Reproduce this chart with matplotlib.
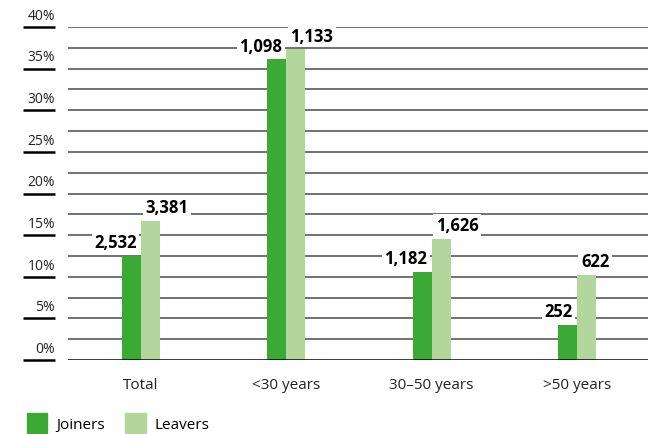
import numpy as np
import matplotlib.pyplot as plt
from matplotlib.patches import Patch
import matplotlib.transforms as mtransforms

# data
categories = ['Total', '<30 years', '30\u201350 years', '>50 years']
joiners_pct = [12.5, 36.1, 10.6, 4.2]
leavers_pct = [16.7, 37.3, 14.5, 10.2]
joiners_lbl = ['2,532', '1,098', '1,182', '252']
leavers_lbl = ['3,381', '1,133', '1,626', '622']
yticks = [0, 5, 10, 15, 20, 25, 30, 35, 40]

dark = '#3aaa35'
light = '#b2d69b'

plt.rcParams['font.family'] = ['Open Sans', 'DejaVu Sans']

fig = plt.figure(figsize=(6.48, 4.35), dpi=100)
ax = fig.add_axes([68/648, 74/435, 580/648, 333/435])

x = np.arange(len(categories))
w = 0.131
ax.bar(x - w/2, joiners_pct, w, color=dark, zorder=3)
ax.bar(x + w/2, leavers_pct, w, color=light, zorder=3)

# gridlines every 2.5%
for g in np.arange(2.5, 40.1, 2.5):
    ax.axhline(g, color='#4a4a4a', lw=1.1, zorder=1)
ax.axhline(0, color='black', lw=1.8, zorder=4)

ax.set_xlim(-0.503, 3.49)
ax.set_ylim(0, 40)
for s in ax.spines.values():
    s.set_visible(False)
ax.set_yticks([])
ax.set_xticks(x)
ax.set_xticklabels(categories, fontsize=11, color='#222222')
ax.tick_params(axis='x', length=0, pad=12)

# left-hand labels sitting on short rules
trans = mtransforms.blended_transform_factory(fig.transFigure, ax.transData)
for t in yticks:
    ax.plot([23/648, 55/648], [t, t], transform=trans, color='black',
            lw=1.8, clip_on=False, solid_capstyle='butt')
    ax.annotate('%d%%' % t, (55/648, t), xycoords=trans, xytext=(0, 3),
                textcoords='offset points', ha='right', va='bottom',
                fontsize=10, color='#222222')

# value labels in white boxes
box = dict(boxstyle='square,pad=0.15', fc='white', ec='none')
for i in range(len(categories)):
    ax.annotate(joiners_lbl[i], (x[i], joiners_pct[i]), xytext=(-3, 10),
                textcoords='offset points', ha='right', va='center',
                fontsize=12, fontweight='bold', bbox=box, zorder=5)
    ax.annotate(leavers_lbl[i], (x[i], leavers_pct[i]), xytext=(3, 10),
                textcoords='offset points', ha='left', va='center',
                fontsize=12, fontweight='bold', bbox=box, zorder=5)

handles = [Patch(color=dark), Patch(color=light)]
fig.legend(handles, ['Joiners', 'Leavers'], loc='center left',
           bbox_to_anchor=(0.02, 0.026), ncol=2, frameon=False,
           handlelength=1.35, handleheight=1.6, handletextpad=0.6,
           columnspacing=1.3, fontsize=11)

fig.savefig('out.png', dpi=100)
